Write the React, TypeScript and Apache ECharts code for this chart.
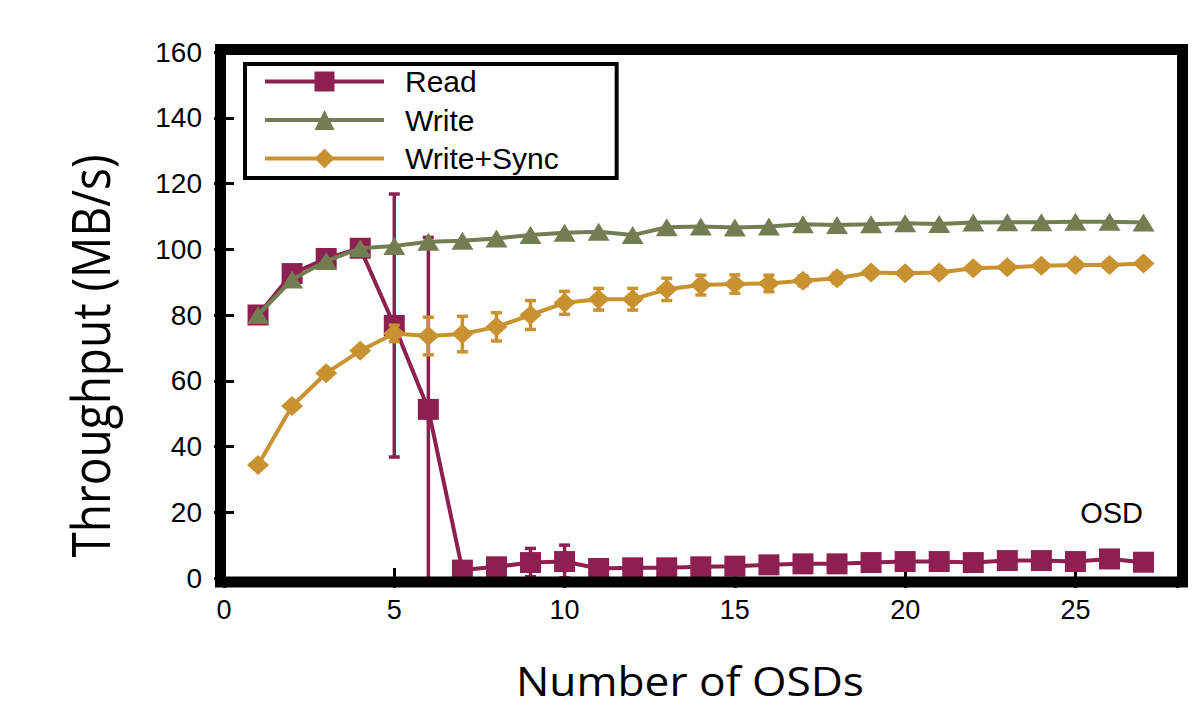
import React, { useEffect, useRef } from "react";
import * as echarts from "echarts";

const osds = [1, 2, 3, 4, 5, 6, 7, 8, 9, 10, 11, 12, 13, 14, 15, 16, 17, 18, 19, 20, 21, 22, 23, 24, 25, 26, 27];
const readValues = [80.0, 92.6, 97.2, 100.3, 76.8, 51.3, 2.4, 3.4, 4.7, 5.0, 2.9, 3.1, 3.1, 3.4, 3.6, 4.0, 4.3, 4.3, 4.7, 5.0, 5.0, 4.7, 5.3, 5.3, 5.0, 5.8, 4.8];
const readErrors = [0, 0, 0, 0, 40.0, 52.3, 0, 0, 4.3, 5.0, 0, 0, 0, 0, 0, 0, 0, 0, 0, 0, 0, 0, 0, 0, 0, 0, 0];
const writeValues = [80.0, 90.8, 96.4, 100.3, 101.0, 102.3, 102.6, 103.3, 104.3, 105.0, 105.3, 104.3, 106.7, 106.9, 106.6, 106.9, 107.6, 107.4, 107.6, 107.9, 107.7, 108.1, 108.2, 108.2, 108.4, 108.4, 108.1];
const syncValues = [34.4, 52.3, 62.3, 69.1, 74.4, 73.6, 74.2, 76.4, 80.0, 83.7, 84.8, 84.8, 87.8, 89.1, 89.4, 89.6, 90.4, 91.2, 92.9, 92.7, 92.9, 94.2, 94.5, 95.0, 95.2, 95.2, 95.7];
const syncErrors = [0, 0, 0, 0, 2.5, 5.7, 5.4, 4.3, 4.4, 3.5, 3.3, 3.3, 3.4, 3.0, 2.8, 2.5, 1.5, 1.5, 0, 0, 0, 0, 0, 0, 0, 0, 0];

const seriesNames = ["Read", "Write", "Write+Sync"];
const xTitle = "Number of OSDs";
const yTitle = "Throughput (MB/s)";
const cornerLabel = "OSD";

const COLOR_READ = "#8e1f51";
const COLOR_WRITE = "#727e51";
const COLOR_SYNC = "#c7922f";
const LINE_W = 4;

function errorSeries(name: string, values: number[], errors: number[], color: string, z: number) {
  const data = osds
    .map((x, i) => [x, values[i] - errors[i], values[i] + errors[i], errors[i]])
    .filter((d) => d[3] > 0);
  return {
    type: "custom",
    name: name + " error",
    z,
    clip: true,
    silent: true,
    encode: { x: 0, y: [1, 2] },
    data,
    renderItem: (_params: any, api: any) => {
      const x = api.value(0);
      const lo = api.coord([x, api.value(1)]);
      const hi = api.coord([x, api.value(2)]);
      const hw = 5.5;
      const style = { stroke: color, lineWidth: 3.5 };
      return {
        type: "group",
        children: [
          { type: "line", shape: { x1: lo[0], y1: lo[1], x2: hi[0], y2: hi[1] }, style },
          { type: "line", shape: { x1: lo[0] - hw, y1: lo[1], x2: lo[0] + hw, y2: lo[1] }, style },
          { type: "line", shape: { x1: hi[0] - hw, y1: hi[1], x2: hi[0] + hw, y2: hi[1] }, style },
        ],
      };
    },
  };
}

export default function App() {
  const ref = useRef<HTMLDivElement>(null);
  useEffect(() => {
    if (!ref.current) return;
    const chart = echarts.init(ref.current, undefined, { renderer: "svg" });
    const tickFont = "Liberation Sans";
    const baseX = {
      type: "value",
      min: 0,
      max: 28,
      interval: 5,
      axisLine: { show: false },
      splitLine: { show: false },
      axisTick: { show: true, inside: true, length: 10, lineStyle: { color: "#000", width: 3 } },
    };
    const baseY = {
      type: "value",
      min: 0,
      max: 160,
      interval: 20,
      axisLine: { show: false },
      splitLine: { show: false },
      axisTick: { show: true, inside: true, length: 10, lineStyle: { color: "#000", width: 3 } },
    };
    chart.setOption({
      animation: false,
      backgroundColor: "#fff",
      grid: { left: 224, right: 21.4, top: 52, bottom: 131, containLabel: false },
      xAxis: [
        {
          ...baseX,
          position: "bottom",
          axisLabel: {
            fontSize: 27,
            fontFamily: tickFont,
            color: "#000",
            margin: 18,
            showMaxLabel: false,
            formatter: (v: number) => (v % 5 === 0 ? String(v) : ""),
          },
        },
        { ...baseX, position: "top", axisLabel: { show: false } },
      ],
      yAxis: [
        {
          ...baseY,
          position: "left",
          axisLabel: { fontSize: 28, fontFamily: tickFont, color: "#000", margin: 22 },
        },
        { ...baseY, position: "right", axisLabel: { show: false } },
      ],
      legend: {
        data: seriesNames,
        orient: "vertical",
        left: 245,
        top: 64,
        itemWidth: 119,
        itemHeight: 25,
        itemGap: 8.5,
        padding: [2.5, 58, 4.5, 18],
        borderColor: "#000",
        borderWidth: 4,
        backgroundColor: "#fff",
        selectedMode: false,
        lineStyle: { width: 4 },
        textStyle: { fontSize: 30, fontFamily: tickFont, color: "#000", lineHeight: 25, padding: [0, 0, 0, 16] },
      },
      series: [
        errorSeries("Read", readValues, readErrors, COLOR_READ, 1),
        {
          type: "line",
          name: seriesNames[0],
          z: 2,
          data: osds.map((x, i) => [x, readValues[i]]),
          symbol: "rect",
          symbolSize: 21,
          lineStyle: { color: COLOR_READ, width: LINE_W },
          itemStyle: { color: COLOR_READ },
          clip: true,
        },
        {
          type: "line",
          name: seriesNames[1],
          z: 3,
          data: osds.map((x, i) => [x, writeValues[i]]),
          symbol: "triangle",
          symbolSize: [22, 18],
          lineStyle: { color: COLOR_WRITE, width: LINE_W },
          itemStyle: { color: COLOR_WRITE },
        },
        errorSeries("Write+Sync", syncValues, syncErrors, COLOR_SYNC, 4),
        {
          type: "line",
          name: seriesNames[2],
          z: 5,
          data: osds.map((x, i) => [x, syncValues[i]]),
          symbol: "diamond",
          symbolSize: [22, 20],
          lineStyle: { color: COLOR_SYNC, width: LINE_W },
          itemStyle: { color: COLOR_SYNC },
        },
      ],
      graphic: [
        {
          type: "rect",
          z: 100,
          shape: { x: 220.5, y: 49.5, width: 962, height: 532.5 },
          style: { fill: "none", stroke: "#000", lineWidth: 11 },
        },
        {
          type: "text",
          z: 100,
          x: 1143,
          y: 513,
          style: { text: cornerLabel, font: "29px 'Liberation Sans'", fill: "#000", align: "right", verticalAlign: "middle" },
        },
        {
          type: "text",
          z: 100,
          x: 90,
          y: 356,
          rotation: Math.PI / 2,
          scaleY: 1.15,
          style: { text: yTitle, font: "46px 'Open Sans'", fill: "#000", align: "center", verticalAlign: "middle" },
        },
        {
          type: "text",
          z: 100,
          x: 690,
          y: 680,
          scaleX: 1.08,
          style: { text: xTitle, font: "41px 'Open Sans'", fill: "#000", align: "center", verticalAlign: "middle" },
        },
      ],
    });
    return () => chart.dispose();
  }, []);
  return <div ref={ref} style={{ position: "fixed", left: 0, top: 0, width: 1199, height: 709 }} />;
}
